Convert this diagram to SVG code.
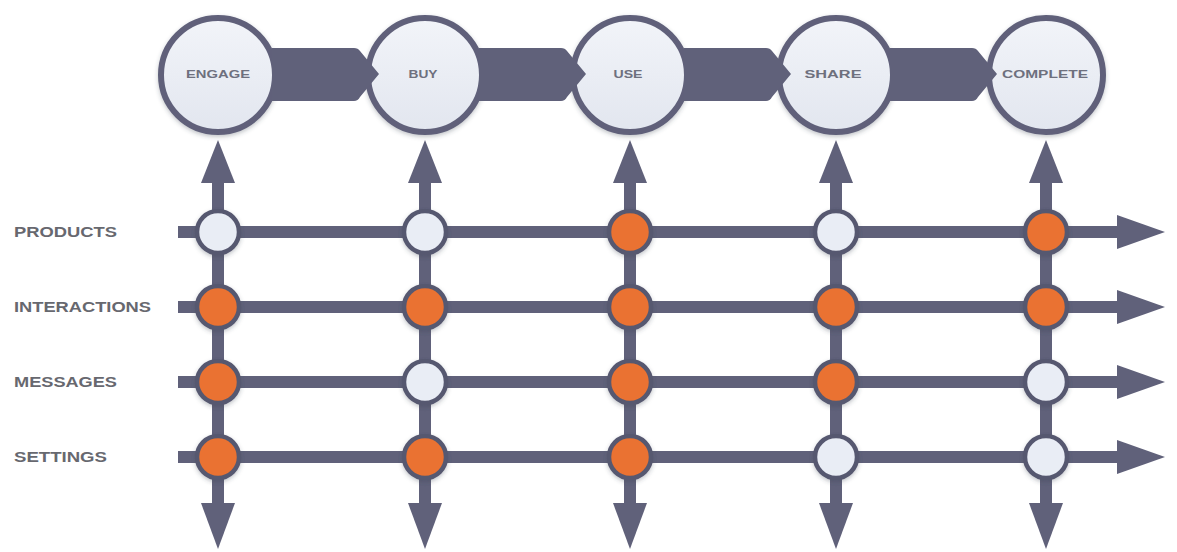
<svg xmlns="http://www.w3.org/2000/svg" width="1177" height="552" viewBox="0 0 1177 552">
  <defs>
    <style>
      .wire { stroke: #60617a; stroke-width: 12; fill: none; }
      .head { fill: #60617a; }
      .band { fill: #60617a; }
      .stage { fill: url(#stageFill); stroke: #60617a; stroke-width: 6; filter: url(#soft); }
      .stage-label { font-family: "Liberation Sans", Arial, sans-serif; font-weight: bold; font-size: 10.5px; fill: #6e707e; text-anchor: middle; }
      .row-label { font-family: "Liberation Sans", Arial, sans-serif; font-weight: bold; font-size: 14px; fill: #67686f; }
      .on { fill: #ea7230; stroke: #575870; stroke-width: 4.5; filter: url(#soft); }
      .off { fill: #e9edf5; stroke: #575870; stroke-width: 4.5; filter: url(#soft); }
    </style>
    <linearGradient id="stageFill" x1="0" y1="0" x2="0" y2="1">
      <stop offset="0" stop-color="#f2f4f9"/>
      <stop offset="1" stop-color="#e2e6ef"/>
    </linearGradient>
    <filter id="soft" x="-30%" y="-30%" width="160%" height="160%">
      <feDropShadow dx="0" dy="2" stdDeviation="2" flood-color="#3a3c50" flood-opacity="0.3"/>
    </filter>
  </defs>

  <rect width="1177" height="552" fill="#ffffff"/>

  <!-- grid wires: rows end in right arrows, columns in up and down arrows -->
  <g id="connectors">
    <g id="rows">
      <line class="wire" x1="178" y1="232" x2="1120" y2="232"/>
      <line class="wire" x1="178" y1="307" x2="1120" y2="307"/>
      <line class="wire" x1="178" y1="382" x2="1120" y2="382"/>
      <line class="wire" x1="178" y1="457" x2="1120" y2="457"/>
      <polygon class="head" points="1117,215 1165,232 1117,249"/>
      <polygon class="head" points="1117,290 1165,307 1117,324"/>
      <polygon class="head" points="1117,365 1165,382 1117,399"/>
      <polygon class="head" points="1117,440 1165,457 1117,474"/>
    </g>
    <g id="columns">
      <line class="wire" x1="218" y1="180" x2="218" y2="506"/>
      <line class="wire" x1="425" y1="180" x2="425" y2="506"/>
      <line class="wire" x1="630" y1="180" x2="630" y2="506"/>
      <line class="wire" x1="836" y1="180" x2="836" y2="506"/>
      <line class="wire" x1="1046" y1="180" x2="1046" y2="506"/>
      <polygon class="head" points="218,140 235,183 201,183"/>
      <polygon class="head" points="425,140 442,183 408,183"/>
      <polygon class="head" points="630,140 647,183 613,183"/>
      <polygon class="head" points="836,140 853,183 819,183"/>
      <polygon class="head" points="1046,140 1063,183 1029,183"/>
      <polygon class="head" points="201,503 235,503 218,549"/>
      <polygon class="head" points="408,503 442,503 425,549"/>
      <polygon class="head" points="613,503 647,503 630,549"/>
      <polygon class="head" points="819,503 853,503 836,549"/>
      <polygon class="head" points="1029,503 1063,503 1046,549"/>
    </g>
  </g>

  <!-- stages -->
  <g id="stage-engage">
    <circle class="stage" cx="218" cy="75" r="57"/>
    <text class="stage-label" x="218" y="78" textLength="64" lengthAdjust="spacingAndGlyphs">ENGAGE</text>
  </g>
  <g id="stage-buy">
    <circle class="stage" cx="425" cy="75" r="57"/>
    <text class="stage-label" x="423" y="78" textLength="29" lengthAdjust="spacingAndGlyphs">BUY</text>
  </g>
  <g id="stage-use">
    <circle class="stage" cx="630" cy="75" r="57"/>
    <text class="stage-label" x="628" y="78" textLength="29" lengthAdjust="spacingAndGlyphs">USE</text>
  </g>
  <g id="stage-share">
    <circle class="stage" cx="836" cy="75" r="57"/>
    <text class="stage-label" x="833" y="78" textLength="57" lengthAdjust="spacingAndGlyphs">SHARE</text>
  </g>
  <g id="stage-complete">
    <circle class="stage" cx="1046" cy="75" r="57"/>
    <text class="stage-label" x="1045" y="78" textLength="86" lengthAdjust="spacingAndGlyphs">COMPLETE</text>
  </g>

  <!-- flow arrows between stages -->
  <g id="flow">
    <path class="band" d="M272,48 H354 Q358,48 360,51 L379,74 L360,97 Q358,101 354,101 H272 Z"/>
    <path class="band" d="M479,48 H561 Q565,48 567,51 L586,74 L567,97 Q565,101 561,101 H479 Z"/>
    <path class="band" d="M684,48 H766 Q770,48 772,51 L791,74 L772,97 Q770,101 766,101 H684 Z"/>
    <path class="band" d="M890,48 H972 Q976,48 978,51 L997,74 L978,97 Q976,101 972,101 H890 Z"/>
  </g>

  <!-- row labels -->
  <g id="labels">
    <text class="row-label" x="14" y="237" textLength="103" lengthAdjust="spacingAndGlyphs">PRODUCTS</text>
    <text class="row-label" x="14" y="312" textLength="137" lengthAdjust="spacingAndGlyphs">INTERACTIONS</text>
    <text class="row-label" x="14" y="387" textLength="103" lengthAdjust="spacingAndGlyphs">MESSAGES</text>
    <text class="row-label" x="14" y="462" textLength="93" lengthAdjust="spacingAndGlyphs">SETTINGS</text>
  </g>

  <!-- grid nodes -->
  <g id="node-products-engage"><circle class="off" cx="218" cy="232" r="21"/></g>
  <g id="node-products-buy"><circle class="off" cx="425" cy="232" r="21"/></g>
  <g id="node-products-use"><circle class="on" cx="630" cy="232" r="21"/></g>
  <g id="node-products-share"><circle class="off" cx="836" cy="232" r="21"/></g>
  <g id="node-products-complete"><circle class="on" cx="1046" cy="232" r="21"/></g>

  <g id="node-interactions-engage"><circle class="on" cx="218" cy="307" r="21"/></g>
  <g id="node-interactions-buy"><circle class="on" cx="425" cy="307" r="21"/></g>
  <g id="node-interactions-use"><circle class="on" cx="630" cy="307" r="21"/></g>
  <g id="node-interactions-share"><circle class="on" cx="836" cy="307" r="21"/></g>
  <g id="node-interactions-complete"><circle class="on" cx="1046" cy="307" r="21"/></g>

  <g id="node-messages-engage"><circle class="on" cx="218" cy="382" r="21"/></g>
  <g id="node-messages-buy"><circle class="off" cx="425" cy="382" r="21"/></g>
  <g id="node-messages-use"><circle class="on" cx="630" cy="382" r="21"/></g>
  <g id="node-messages-share"><circle class="on" cx="836" cy="382" r="21"/></g>
  <g id="node-messages-complete"><circle class="off" cx="1046" cy="382" r="21"/></g>

  <g id="node-settings-engage"><circle class="on" cx="218" cy="457" r="21"/></g>
  <g id="node-settings-buy"><circle class="on" cx="425" cy="457" r="21"/></g>
  <g id="node-settings-use"><circle class="on" cx="630" cy="457" r="21"/></g>
  <g id="node-settings-share"><circle class="off" cx="836" cy="457" r="21"/></g>
  <g id="node-settings-complete"><circle class="off" cx="1046" cy="457" r="21"/></g>
</svg>
